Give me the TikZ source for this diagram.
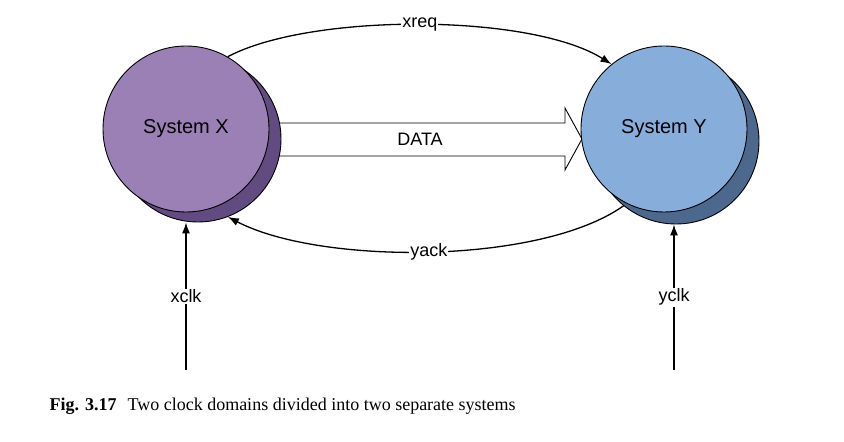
\documentclass[tikz,border=0pt]{standalone}
\usepackage{fontspec}
\setmainfont{Liberation Sans}
\newfontfamily\capfont{Liberation Serif}
\usetikzlibrary{arrows.meta}

\definecolor{xfront}{RGB}{155,128,182}
\definecolor{xshade}{RGB}{98,75,128}
\definecolor{yfront}{RGB}{135,174,219}
\definecolor{yshade}{RGB}{76,104,140}

\begin{document}
\begin{tikzpicture}[x=1pt,y=1pt]
        \tikzstyle{sys}=[circle,draw=black,line width=0.9pt,minimum size=166pt,inner sep=0pt,font=\fontsize{20}{22}\selectfont]
        \tikzstyle{sig}=[line width=1.3pt,-{Latex[length=11pt,width=8pt]}]
        \tikzstyle{lbl}=[fill=white,inner sep=1pt,font=\fontsize{18}{20}\selectfont]

        \useasboundingbox (0,0) rectangle (844,442);

        % data bus
        \node(data)[font=\fontsize{18}{20}\selectfont] at (420,303) {};
        \draw[line width=0.9pt,fill=white] (250,319) -- (565,319) -- (565,334) -- (582,303)
          -- (565,272) -- (565,286) -- (250,286) -- cycle;
        \node[font=\fontsize{18}{20}\selectfont] at (data) {DATA};

        % the two systems
        \node[sys,fill=xshade](xshadow) at (198,303) {};
        \node[sys,fill=xfront](sysx) at (186,313) {System X};
        \node[sys,fill=yshade](yshadow) at (676,301) {};
        \node[sys,fill=yfront](sysy) at (664,313) {System Y};

        % handshake
        \draw[sig] (sysx.60) .. controls (310,429) and (530,429) .. (sysy.129)
          node[lbl,pos=0.5]{xreq};
        \draw[sig] (yshadow.231) .. controls (540,177) and (320,177) .. (xshadow.291)
          node[lbl,pos=0.5]{yack};

        % clocks
        \coordinate(xclkin) at (186,72);
        \coordinate(yclkin) at (674,72);
        \draw[sig] (xclkin) -- (xclkin |- xshadow.south) node[lbl,midway]{xclk};
        \draw[sig] (yclkin) -- (yclkin |- yshadow.south) node[lbl,midway]{yclk};

        \node(caption)[anchor=west,font=\capfont\fontsize{18}{20}\selectfont] at (46,36)
          {\textbf{Fig. 3.17}\hspace{11pt}Two clock domains divided into two separate systems};
\end{tikzpicture}
\end{document}
